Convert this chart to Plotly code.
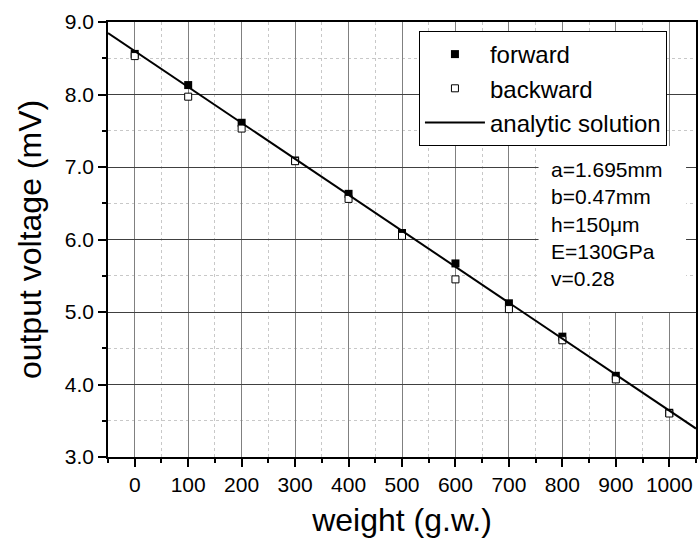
import plotly.graph_objects as go

weights = [0, 100, 200, 300, 400, 500, 600, 700, 800, 900, 1000]
forward = [8.56, 8.13, 7.61, 7.09, 6.63, 6.09, 5.67, 5.12, 4.66, 4.12, 3.61]
backward = [8.53, 7.97, 7.53, 7.08, 6.56, 6.05, 5.45, 5.04, 4.61, 4.07, 3.60]
analytic_x = [-50, 1050]
analytic_y = [8.848, 3.392]

x_ticks = [0, 100, 200, 300, 400, 500, 600, 700, 800, 900, 1000]
y_ticks = [3.0, 4.0, 5.0, 6.0, 7.0, 8.0, 9.0]
params = ["a=1.695mm", "b=0.47mm", "h=150\u03bcm", "E=130GPa", "v=0.28"]

FONT = "Arial, Liberation Sans, sans-serif"

fig = go.Figure()
fig.add_trace(go.Scatter(x=weights, y=forward, mode="markers", name="forward",
                         marker=dict(symbol="square", size=8, color="black",
                                     line=dict(width=0))))
fig.add_trace(go.Scatter(x=weights, y=backward, mode="markers", name="backward",
                         marker=dict(symbol="square", size=7, color="white",
                                     line=dict(width=1, color="black"))))
fig.add_trace(go.Scatter(x=analytic_x, y=analytic_y, mode="lines",
                         name="analytic solution",
                         line=dict(color="black", width=2)))

axis_common = dict(showline=True, linecolor="black", linewidth=1.5, mirror=True,
                   ticks="outside", ticklen=8, tickwidth=1.5, tickcolor="black",
                   zeroline=False, tickfont=dict(size=21, color="black", family=FONT))

fig.update_xaxes(range=[-50, 1050], tickvals=x_ticks, ticktext=[str(v) for v in x_ticks],
                 showgrid=True, gridcolor="#808080", gridwidth=1,
                 minor=dict(dtick=50, tick0=0, ticks="outside", ticklen=4, tickwidth=1.5,
                            tickcolor="black", showgrid=True, gridcolor="#c8c8c8",
                            griddash="dot", gridwidth=1),
                 title=dict(text="weight (g.w.)", font=dict(size=32, family=FONT, color="black"),
                            standoff=14),
                 **axis_common)
fig.update_yaxes(range=[3, 9], tickvals=y_ticks, tickformat=".1f",
                 showgrid=True, gridcolor="#404040", gridwidth=1,
                 minor=dict(dtick=0.5, tick0=0, ticks="outside", ticklen=4, tickwidth=1.5,
                            tickcolor="black", showgrid=True, gridcolor="#c8c8c8",
                            griddash="dot", gridwidth=1),
                 title=dict(text="output voltage (mV)", font=dict(size=32, family=FONT, color="black"),
                            standoff=14),
                 **axis_common)

L, R, T, B = 108, 1, 22, 95
W, H = 699, 552
pw, ph = W - L - R, H - T - B

def px(xp):
    return (xp - L) / pw

def py(yp):
    return (H - B - yp) / ph

fig.add_shape(type="rect", xref="paper", yref="paper",
              x0=px(540), x1=px(688), y0=py(312), y1=py(146),
              fillcolor="white", line=dict(width=0), layer="above")
fig.add_annotation(xref="paper", yref="paper", x=px(551), y=py(156),
                   xanchor="left", yanchor="top", align="left", showarrow=False,
                   text="<br>".join(params),
                   font=dict(size=21, family=FONT, color="black"))

fig.update_layout(
    width=W, height=H,
    margin=dict(l=L, r=R, t=T, b=B),
    paper_bgcolor="white", plot_bgcolor="white",
    font=dict(family=FONT, color="black"),
    showlegend=True,
    legend=dict(x=px(420), y=py(31), xanchor="left", yanchor="top",
                bgcolor="white", bordercolor="black", borderwidth=1,
                font=dict(size=24, family=FONT, color="black"),
                itemwidth=60),
)

fig.write_html("out.html")
